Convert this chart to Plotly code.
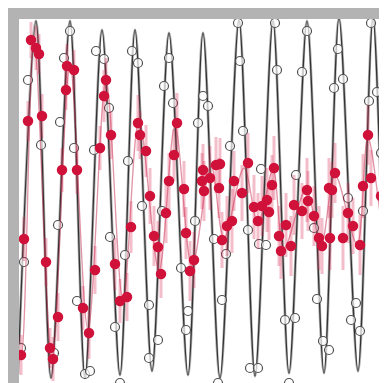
import plotly.graph_objects as go

# ---- black (driven) reference curve: extrema of the model line ----
line_t = [-0.1, 1.7, 3.2, 5.1, 6.6, 8.3, 10.1, 11.6, 13.3, 15.0, 16.9, 18.4, 20.1,
          22.0, 23.6, 25.4, 27.0, 28.8, 30.5, 32.0, 33.9, 35.4, 37.0, 38.7]
line_y = [-1.71, 1.82, -1.75, 1.82, -1.75, 1.73, -1.72, 1.73, -1.68, 1.70, -1.72, 1.70, -1.75,
          1.83, -1.73, 1.82, -1.70, 1.82, -1.70, 1.85, -1.68, 1.85, -1.68, 1.80]

# ---- black open-circle measurements ----
ref_t = [0.2, 0.5, 0.9, 2.2, 3.5, 3.9, 4.1, 4.5, 5.1, 5.5, 5.8, 6.6, 7.1, 7.5, 7.7, 8.5,
         9.0, 9.1, 9.6, 10.1, 10.6, 10.9, 11.3, 11.9, 12.3, 13.0, 13.0, 13.9, 14.3, 14.5,
         15.0, 15.4, 16.2, 16.7, 16.9, 17.6, 17.9, 18.4, 18.9, 19.5, 19.9, 20.3, 20.7,
         21.1, 21.9, 22.1, 22.4, 22.9, 23.1, 23.9, 24.0, 24.2, 24.7, 25.6, 25.8, 26.6,
         27.0, 27.6, 27.7, 28.3, 28.8, 29.5, 29.8, 30.4, 31.0, 31.5, 31.9, 32.4, 32.9,
         33.2, 33.7, 34.1, 34.4, 35.0, 35.2, 35.8, 36.2, 36.7, 36.9]
ref_y = [-1.45, -0.59, 1.23, 0.58, -1.50, -0.22, 0.81, 1.45, 1.72, 0.55, -0.98, -1.71, -1.68,
         0.53, 1.52, 1.44, 0.95, -0.34, -1.24, -1.80, -0.52, 0.42, 1.52, 1.40, -0.03, -1.02,
         -1.55, -1.37, -0.08, 1.17, 1.45, 1.00, -0.65, -1.27, -1.08, -0.18, 0.80, 1.07, 0.97,
         -0.36, -1.80, -0.97, -0.51, 0.57, 1.80, 1.42, 0.72, -0.27, -1.65, -1.65, -0.41, 0.34,
         -0.42, 1.80, 1.33, -1.17, -1.80, -1.15, 0.28, 1.31, 1.72, -0.25, -0.96, -1.38, -1.47,
         1.15, 1.54, 1.24, 0.05, -1.17, -1.00, -1.28, -0.08, 1.02, 1.80, 1.11, 0.50, -0.60,
         -1.45]

# ---- red (damped) model curve: extrema ----
fit_t = [-0.4, 0.2, 1.5, 3.3, 5.1, 6.9, 8.7, 10.4, 12.0, 14.0, 15.6, 17.3, 19.2, 20.5, 22.5,
         23.9, 25.4, 26.5, 28.7, 30.2, 31.6, 33.8, 34.9, 36.9, 38.0]
fit_y = [-1.2, -1.55, 1.63, -1.55, 1.37, -1.27, 1.23, -0.97, 0.83, -0.67, 0.77, -0.63, 0.37,
         -0.35, 0.35, -0.20, 0.33, -0.45, 0.13, -0.42, 0.28, -0.41, 0.65, -0.50, 0.0]

# ---- red measurements with error bars ----
meas_t = [0.2, 0.5, 0.9, 1.2, 1.7, 2.0, 2.3, 2.7, 3.1, 3.4, 3.9, 4.3, 4.7, 4.8, 5.5, 5.8,
          6.4, 7.0, 7.6, 8.1, 8.5, 8.7, 9.2, 9.6, 10.1, 10.8, 11.2, 11.9, 12.1, 12.7, 13.1,
          13.5, 13.9, 14.2, 14.7, 15.0, 15.5, 15.8, 16.5, 16.7, 17.1, 17.5, 18.3, 18.4, 18.5,
          19.1, 19.7, 20.0, 20.1, 20.3, 20.8, 21.3, 21.5, 22.3, 22.9, 23.5, 23.9, 24.3, 24.8,
          25.0, 25.3, 25.5, 26.0, 26.2, 26.7, 27.2, 27.5, 28.3, 28.8, 28.9, 29.5, 30.0, 30.3,
          31.0, 31.1, 31.3, 31.6, 32.4, 32.9, 33.4, 34.1, 34.4, 34.9, 35.2, 36.2, 36.7, 36.9,
          36.9]
meas_y = [-1.52, -0.36, 0.82, 1.63, 1.55, 1.49, 0.87, -0.59, -1.45, -1.56, -1.14, 0.33, 1.13,
          1.37, 1.33, 0.33, -1.05, -1.30, -0.67, 0.55, 1.07, 1.23, 0.68, -0.61, -0.98, -0.94,
          -0.24, 0.80, 0.68, 0.52, 0.07, -0.33, -0.44, -0.71, -0.10, 0.22, 0.48, 0.80, 0.14,
          -0.30, -0.68, -0.57, 0.22, 0.33, 0.12, 0.25, 0.38, 0.15, 0.39, -0.37, -0.23, -0.18,
          0.22, 0.10, 0.40, -0.04, -0.18, -0.03, 0.03, -0.09, 0.18, 0.35, -0.33, -0.48, -0.22,
          -0.43, -0.02, -0.08, 0.13, 0.02, -0.13, -0.35, -0.43, 0.15, -0.35, 0.13, 0.30, -0.35,
          -0.10, -0.23, -0.42, 0.17, 0.68, 0.25, 0.07, 0.00, -0.15, -0.53]
meas_err = [0.20, 0.22, 0.20, 0.18, 0.22, 0.20, 0.22, 0.24, 0.20, 0.22, 0.24, 0.22, 0.20,
            0.22, 0.20, 0.24, 0.22, 0.26, 0.24, 0.22, 0.26, 0.22, 0.24, 0.26, 0.22, 0.24,
            0.26, 0.28, 0.24, 0.26, 0.28, 0.30, 0.26, 0.24, 0.30, 0.28, 0.26, 0.30, 0.28,
            0.26, 0.30, 0.28, 0.28, 0.26, 0.30, 0.32, 0.28, 0.30, 0.26, 0.28, 0.30, 0.32,
            0.30, 0.28, 0.30, 0.32, 0.28, 0.30, 0.32, 0.28, 0.30, 0.32, 0.30, 0.28, 0.32,
            0.30, 0.30, 0.28, 0.32, 0.30, 0.30, 0.32, 0.28, 0.30, 0.32, 0.28, 0.30, 0.32,
            0.30, 0.28, 0.30, 0.32, 0.30, 0.28, 0.30, 0.32, 0.30, 0.28]

fig = go.Figure()

fig.add_trace(go.Scatter(x=line_t, y=line_y, mode="lines",
                         line=dict(color="#b0b0b0", width=2.8, shape="spline", smoothing=0.85),
                         hoverinfo="skip"))
fig.add_trace(go.Scatter(x=line_t, y=line_y, mode="lines",
                         line=dict(color="#333333", width=1.25, shape="spline", smoothing=0.85),
                         hoverinfo="skip"))
fig.add_trace(go.Scatter(x=ref_t, y=ref_y, mode="markers",
                         marker=dict(symbol="circle", size=9, color="rgba(255,255,255,0.7)",
                                     line=dict(color="#505050", width=1.2))))
fig.add_trace(go.Scatter(x=fit_t, y=fit_y, mode="lines",
                         line=dict(color="rgba(190,20,60,0.45)", width=1.3, shape="spline",
                                   smoothing=1.0),
                         hoverinfo="skip"))
fig.add_trace(go.Scatter(x=meas_t, y=meas_y, mode="markers",
                         error_y=dict(type="data", array=meas_err, visible=True,
                                      color="rgba(215,40,80,0.3)", thickness=3, width=0),
                         marker=dict(symbol="circle", size=10.5, color="#d0123a",
                                     line=dict(width=0))))

fig.update_layout(
    width=387, height=383,
    margin=dict(l=11, r=5, t=11, b=5),
    paper_bgcolor="#b3b3b3",
    plot_bgcolor="#ffffff",
    showlegend=False,
    xaxis=dict(range=[0, 37.1], visible=False, fixedrange=True),
    yaxis=dict(range=[-1.83, 1.84], visible=False, fixedrange=True),
)

fig.write_html("out.html")
